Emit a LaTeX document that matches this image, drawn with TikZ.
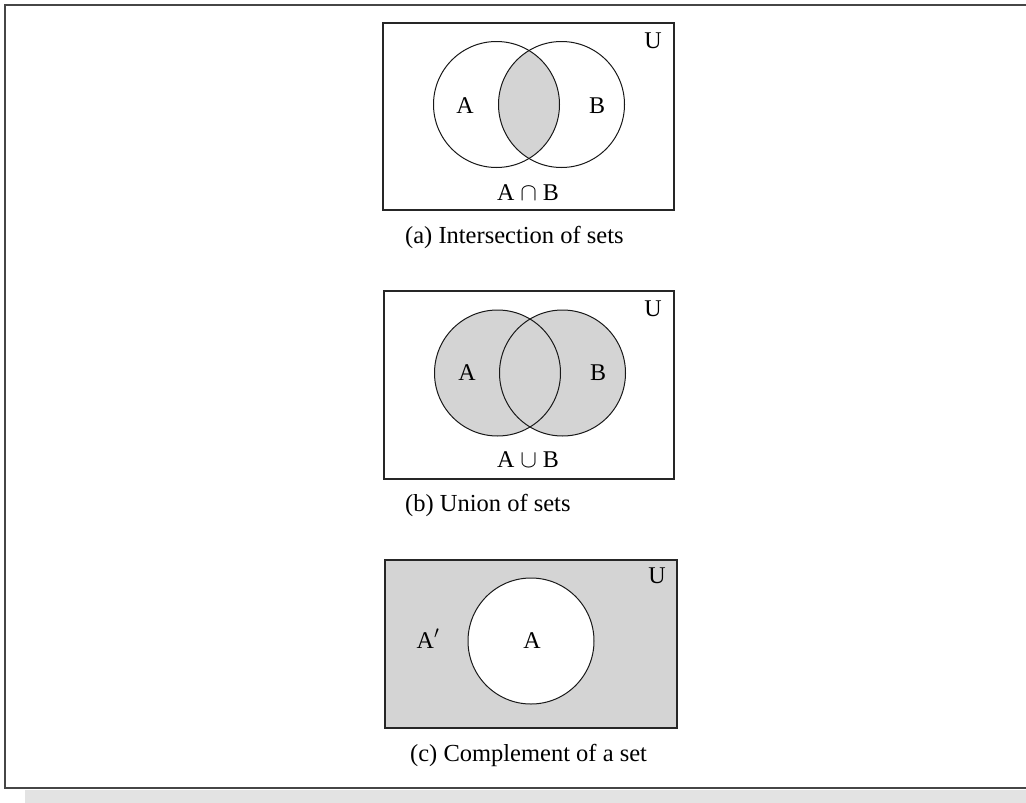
\documentclass[tikz,border=0pt]{standalone}
\usepackage{fontspec}
\setmainfont{Liberation Serif}
\definecolor{setgray}{RGB}{212,212,212}
\definecolor{framegray}{RGB}{70,70,70}

\begin{document}
\begin{tikzpicture}[x=1pt,y=-1pt,
    setbox/.style={draw=black!85,line width=1.2pt},
    venn/.style={draw=black!90,line width=1pt},
    lbl/.style={font=\fontsize{24}{28}\selectfont,inner sep=0pt,
      text height=16pt,text depth=0pt},
    capt/.style={font=\fontsize{24.5}{28}\selectfont,inner sep=0pt,anchor=west}]
    \useasboundingbox (0,0) rectangle (1026,803);
    % page frame and its shadow
    \fill[gray!22] (25,790) rectangle (1026,803);
    \draw[framegray,line width=2pt] (1026,5) -- (5,5) -- (5,788) -- (1026,788);

    % (a) intersection
    \begin{scope}
      \clip (496.5,104.5) circle (63);
      \fill[setgray] (561.5,104.5) circle (63);
    \end{scope}
    \draw[setbox] (383,23) rectangle (674,210);
    \draw[venn] (496.5,104.5) circle (63);
    \draw[venn] (561.5,104.5) circle (63);
    \node[lbl] (uA) at (653,40) {U};
    \node[lbl] (aA) at (465,105) {A};
    \node[lbl] (bA) at (597,105) {B};
    \node[lbl] (capAB) at (528,192) {A $\cap$ B};
    \node[capt] (captA) at (405,237) {(a) Intersection of sets};

    % (b) union
    \draw[setbox] (384,291) rectangle (674,479);
    \fill[setgray] (497.5,373) circle (63);
    \fill[setgray] (562.5,373) circle (63);
    \draw[venn] (497.5,373) circle (63);
    \draw[venn] (562.5,373) circle (63);
    \node[lbl] (uB) at (653,308) {U};
    \node[lbl] (aB) at (467,372) {A};
    \node[lbl] (bB) at (598,372) {B};
    \node[lbl] (cupAB) at (528,459) {A $\cup$ B};
    \node[capt] (captB) at (405,505) {(b) Union of sets};

    % (c) complement
    \draw[setbox,fill=setgray] (385,560) rectangle (677,728);
    \draw[venn,fill=white] (531,641) circle (63);
    \node[lbl] (uC) at (657,575) {U};
    \node[lbl] (notA) at (428,640) {A$'$};
    \node[lbl] (aC) at (532,640) {A};
    \node[capt] (captC) at (410,755) {(c) Complement of a set};
  \end{tikzpicture}
\end{document}
